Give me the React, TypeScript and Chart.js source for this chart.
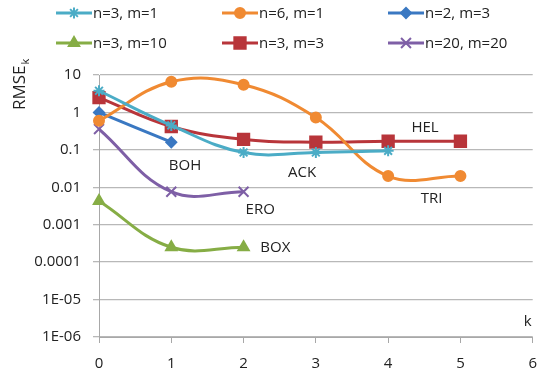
import React, { useEffect, useRef } from "react";
import { Chart, registerables } from "chart.js";
import { drawPoint } from "chart.js/helpers";

Chart.register(...registerables);

// ---------- data ----------
const kValues = [0, 1, 2, 3, 4, 5];
const seriesNames = ["n=3, m=1", "n=6, m=1", "n=2, m=3", "n=3, m=10", "n=3, m=3", "n=20, m=20"];
const n3m1 = [3.8, 0.45, 0.085, 0.085, 0.094, null];
const n6m1 = [0.6, 6.6, 5.5, 0.73, 0.02, 0.02];
const n2m3 = [1.0, 0.16, null, null, null, null];
const n3m10 = [0.0043, 0.00025, 0.00025, null, null, null];
const n3m3 = [2.5, 0.42, 0.19, 0.16, 0.17, 0.17];
const n20m20 = [0.36, 0.0076, 0.0076, null, null, null];
const yTickValues = [10, 1, 0.1, 0.01, 0.001, 0.0001, 1e-5, 1e-6];
const yTickLabels = ["10", "1", "0.1", "0.01", "0.001", "0.0001", "1E-05", "1E-06"];
const xTickLabels = ["0", "1", "2", "3", "4", "5", "6"];
const curveLabelText = ["BOH", "ACK", "ERO", "BOX", "HEL", "TRI"];
const curveLabelK = [1.19, 2.81, 2.23, 2.44, 4.51, 4.6];
const curveLabelY = [0.037, 0.024, 0.0025, 0.00024, 0.39, 0.0049];

// ---------- styles ----------
const colors = ["#4BACC6", "#F08A32", "#3A78C2", "#86AD45", "#B8353A", "#7E5FA6"];
const pointStyles = ["star", "circle", "rectRot", "triangle", "rect", "crossRot"];
const pointRadii = [5.5, 5, 5, 6, 8, 7];
const FONT = "'Open Sans', 'DejaVu Sans', sans-serif";
const TEXT = "#222";

const allSeries = [n3m1, n6m1, n2m3, n3m10, n3m3, n20m20];

const overlay = {
  id: "overlay",
  afterDatasetsDraw(chart: any) {
    const ctx = chart.ctx;
    const xs = chart.scales.x;
    const ys = chart.scales.y;
    ctx.save();
    // curve labels
    ctx.fillStyle = TEXT;
    ctx.font = `15px ${FONT}`;
    ctx.textAlign = "center";
    ctx.textBaseline = "middle";
    curveLabelText.forEach((t, i) => {
      ctx.fillText(t, xs.getPixelForValue(curveLabelK[i]), ys.getPixelForValue(curveLabelY[i]));
    });
    // axis title k
    ctx.fillText("k", xs.getPixelForValue(5.93), ys.getPixelForValue(2.6e-6));
    // y title
    ctx.save();
    ctx.translate(20, 110);
    ctx.rotate(-Math.PI / 2);
    ctx.textAlign = "left";
    ctx.textBaseline = "middle";
    ctx.font = `17px ${FONT}`;
    ctx.fillText("RMSE", 0, 0);
    const w = ctx.measureText("RMSE").width;
    ctx.font = `11px ${FONT}`;
    ctx.fillText("k", w + 1, 6);
    ctx.restore();
    // legend
    const colX = [56, 222, 388];
    const rowY = [13, 43];
    ctx.font = `15px ${FONT}`;
    ctx.textAlign = "left";
    ctx.textBaseline = "middle";
    seriesNames.forEach((name, i) => {
      const x0 = colX[i % 3];
      const y0 = rowY[Math.floor(i / 3)];
      ctx.strokeStyle = colors[i];
      ctx.lineWidth = 3;
      ctx.beginPath();
      ctx.moveTo(x0, y0);
      ctx.lineTo(x0 + 36, y0);
      ctx.stroke();
      ctx.fillStyle = colors[i];
      ctx.lineWidth = 2;
      drawPoint(ctx, { pointStyle: pointStyles[i], radius: pointRadii[i], rotation: 0, borderWidth: 2 }, x0 + 18, y0);
      ctx.fillStyle = TEXT;
      ctx.fillText(name, x0 + 37, y0 + 1);
    });
    ctx.restore();
  },
};

export default function App() {
  const ref = useRef<HTMLCanvasElement | null>(null);
  useEffect(() => {
    if (!ref.current) return;
    const datasets = allSeries.map((vals, i) => ({
      label: seriesNames[i],
      data: kValues
        .map((k, j) => ({ x: k, y: vals[j] }))
        .filter((p) => p.y !== null && p.y !== undefined),
      borderColor: colors[i],
      backgroundColor: colors[i],
      borderWidth: 3,
      pointStyle: pointStyles[i],
      pointRadius: pointRadii[i],
      pointBorderWidth: 2,
      pointBorderColor: colors[i],
      pointBackgroundColor: colors[i],
      tension: 0.4,
      clip: false as any,
    }));
    const chart = new Chart(ref.current, {
      type: "line",
      data: { datasets },
      plugins: [overlay],
      options: {
        animation: false,
        responsive: false,
        layout: { padding: { top: 75, right: 12, left: 0, bottom: 0 } },
        plugins: { legend: { display: false }, tooltip: { enabled: false } },
        scales: {
          x: {
            type: "linear",
            min: 0,
            max: 6,
            afterBuildTicks: (s: any) => {
              s.ticks = xTickLabels.map((_, i) => ({ value: i }));
            },
            afterFit: (s: any) => {
              s.height = 41;
            },
            ticks: {
              callback: (v: any) => xTickLabels[Math.round(v)] ?? "",
              font: { family: FONT, size: 15 },
              color: TEXT,
              padding: 12,
              maxRotation: 0,
            },
            grid: { drawOnChartArea: false, drawTicks: true, tickLength: 6, color: "#a8a8a8" },
            border: { color: "#a8a8a8" },
          },
          y: {
            type: "logarithmic",
            min: 1e-6,
            max: 10,
            afterBuildTicks: (s: any) => {
              s.ticks = yTickValues.map((v) => ({ value: v }));
            },
            afterFit: (s: any) => {
              s.width = 99;
            },
            ticks: {
              callback: (v: any) => {
                const idx = yTickValues.findIndex((t) => Math.abs(Math.log10(t) - Math.log10(v)) < 1e-6);
                return idx >= 0 ? yTickLabels[idx] : "";
              },
              font: { family: FONT, size: 15 },
              color: TEXT,
              padding: 12,
            },
            grid: { color: "#b8b8b8", lineWidth: 1.3, tickLength: 6 },
            border: { color: "#a8a8a8" },
          },
        },
      },
    });
    return () => chart.destroy();
  }, []);
  return (
    <div style={{ position: "absolute", left: 0, top: 0, width: 549, height: 378, background: "#fff" }}>
      <canvas ref={ref} width={549} height={378} />
    </div>
  );
}
